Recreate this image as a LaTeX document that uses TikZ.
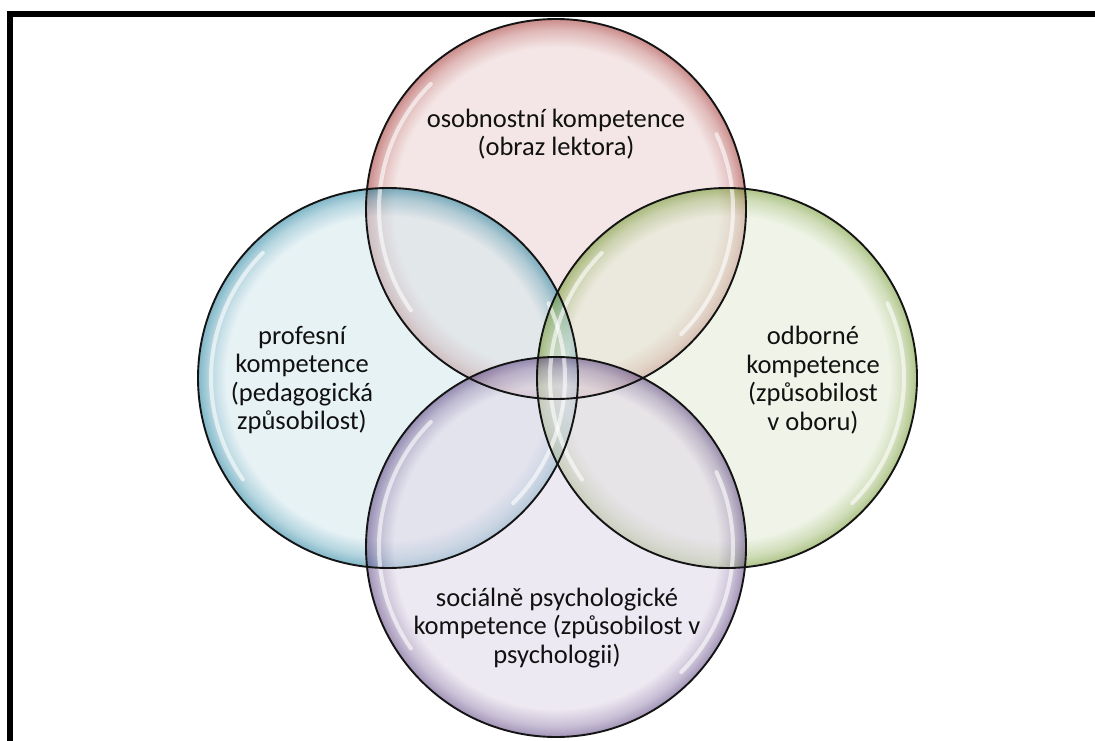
\documentclass[tikz,border=0pt]{standalone}
\usepackage{fontspec}
\setmainfont{Carlito}
\usetikzlibrary{calc}
\definecolor{redfill}{RGB}{236,210,210}
\definecolor{redrim}{RGB}{160,45,42}
\definecolor{bluefill}{RGB}{212,232,238}
\definecolor{bluerim}{RGB}{25,125,155}
\definecolor{greenfill}{RGB}{228,236,214}
\definecolor{greenrim}{RGB}{110,150,40}
\definecolor{purplefill}{RGB}{224,215,232}
\definecolor{purplerim}{RGB}{85,60,125}
\definecolor{txt}{RGB}{17,17,17}
\pgfdeclareradialshading{bubred}{\pgfpoint{0bp}{0bp}}{color(0bp)=(redfill); color(21.3bp)=(redfill); color(23.6bp)=(redrim!50!redfill); color(25bp)=(redrim); color(50bp)=(redrim)}
\pgfdeclareradialshading{bubblue}{\pgfpoint{0bp}{0bp}}{color(0bp)=(bluefill); color(21.3bp)=(bluefill); color(23.6bp)=(bluerim!50!bluefill); color(25bp)=(bluerim); color(50bp)=(bluerim)}
\pgfdeclareradialshading{bubgreen}{\pgfpoint{0bp}{0bp}}{color(0bp)=(greenfill); color(21.3bp)=(greenfill); color(23.6bp)=(greenrim!50!greenfill); color(25bp)=(greenrim); color(50bp)=(greenrim)}
\pgfdeclareradialshading{bubpurple}{\pgfpoint{0bp}{0bp}}{color(0bp)=(purplefill); color(21.3bp)=(purplefill); color(23.6bp)=(purplerim!50!purplefill); color(25bp)=(purplerim); color(50bp)=(purplerim)}
\begin{document}
\begin{tikzpicture}[x=1pt,y=1pt,
  bubble/.style={circle, minimum size=380pt, inner sep=0pt, fill opacity=0.55},
  outline/.style={draw=black!92, line width=1.9pt},
  hl/.style={draw=white, line width=4pt, opacity=0.6, line cap=round},
  label/.style={align=center, text=txt, font=\fontsize{26.5}{28.5}\selectfont}]
\useasboundingbox (0,0) rectangle (1095,740);
\clip (0,0) rectangle (1095,740);
\fill[white] (0,0) rectangle (1095,740);
\draw[line width=6pt] (10,-60) -- (10,726) -- (1160,726);
% bubbles
\node[bubble, shading=bubred]    (red)    at (556,531) {};
\node[bubble, shading=bubblue]   (blue)   at (388,362) {};
\node[bubble, shading=bubgreen]  (green)  at (727,362) {};
\node[bubble, shading=bubpurple] (purple) at (556,193) {};
% highlights
\foreach \c in {red,blue,green,purple}{
  \draw[hl] ($(\c.center)+(135:177)$) arc[start angle=135, end angle=215, radius=177];
  \draw[hl] ($(\c.center)+(-45:177)$) arc[start angle=-45, end angle=25, radius=177];
}
% outlines
\foreach \c in {red,blue,green,purple}{
  \draw[outline] (\c.center) circle[radius=190];
}
% labels
\node[label] (tred)    at (556,606) {osobnostní kompetence\\(obraz lektora)};
\node[label] (tblue)   at (302,360) {profesní\\kompetence\\(pedagogická\\způsobilost)};
\node[label] (tgreen)  at (813,360) {odborné\\kompetence\\(způsobilost\\v oboru)};
\node[label] (tpurple) at (557,112) {sociálně psychologické\\kompetence (způsobilost v\\psychologii)};
\end{tikzpicture}
\end{document}
